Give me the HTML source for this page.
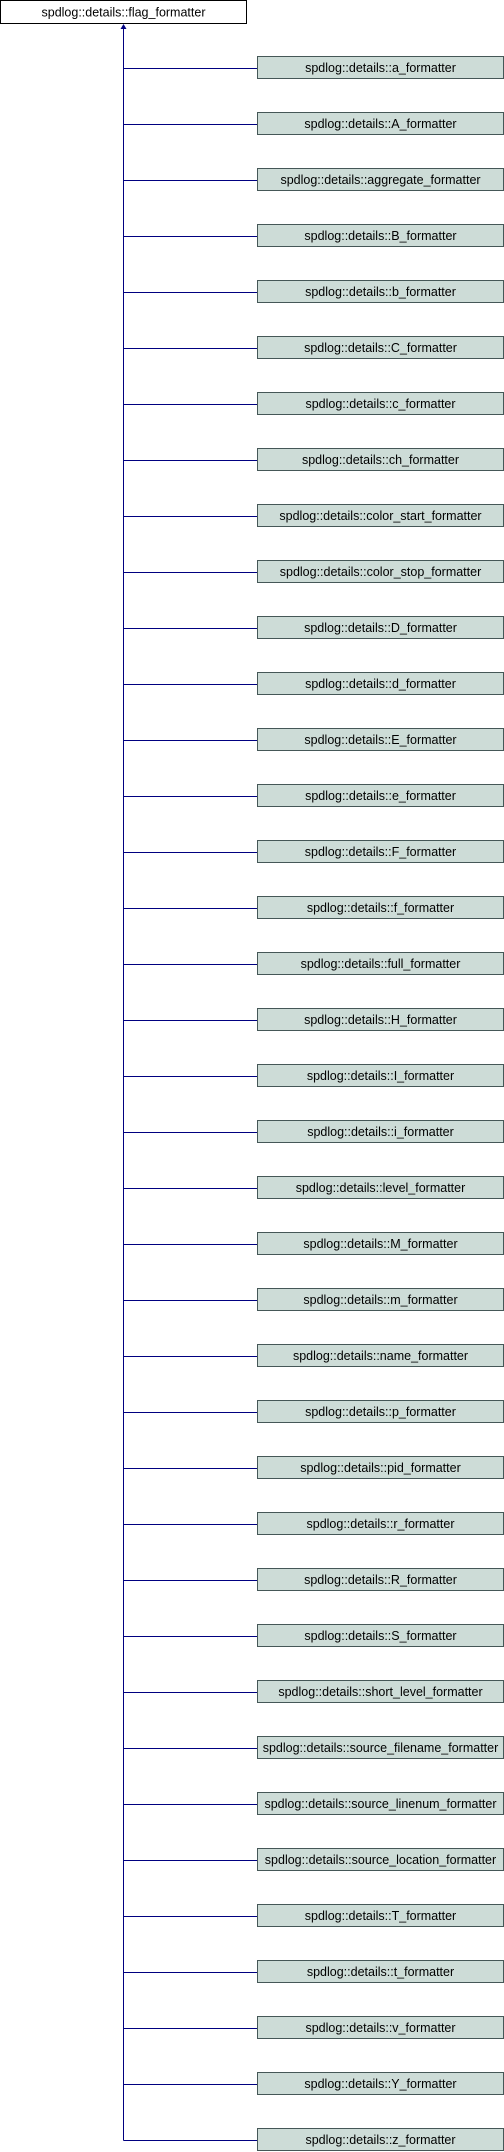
<!DOCTYPE html>
<html><head><meta charset="utf-8"><style>html,body{margin:0;padding:0;background:#fff}svg{display:block}</style></head>
<body>
<svg width="504" height="2152" xmlns="http://www.w3.org/2000/svg" font-family="Liberation Sans, Arial, sans-serif" font-size="12.5">
<rect x="0.5" y="0.5" width="246" height="23" fill="#fff" stroke="#000"/>
<text x="123.5" y="16.5" text-anchor="middle">spdlog::details::flag_formatter</text>
<line x1="123.5" y1="28" x2="123.5" y2="2140.5" stroke="#000080" stroke-width="1"/>
<polygon points="123.5,24 120.5,29 126.5,29" fill="#000080"/>
<g id="kids" stroke="#000080"></g>
<g fill="#cddcd7" stroke="#455757">
</g>
<script>
var names=["a","A","aggregate","B","b","C","c","ch","color_start","color_stop","D","d","E","e","F","f","full","H","I","i","level","M","m","name","p","pid","r","R","S","short_level","source_filename","source_linenum","source_location","T","t","v","Y","z"];
var s=document.querySelector('svg'),ns="http://www.w3.org/2000/svg";
names.forEach(function(n,i){var y=56+56*i;
var l=document.createElementNS(ns,'line');l.setAttribute('x1',123.5);l.setAttribute('x2',257);l.setAttribute('y1',y+12.5);l.setAttribute('y2',y+12.5);l.setAttribute('stroke','#000080');s.appendChild(l);
var r=document.createElementNS(ns,'rect');r.setAttribute('x',257.5);r.setAttribute('y',y+0.5);r.setAttribute('width',246);r.setAttribute('height',22);r.setAttribute('fill','#cddcd7');r.setAttribute('stroke','#455757');s.appendChild(r);
var t=document.createElementNS(ns,'text');t.setAttribute('x',380.5);t.setAttribute('y',y+16);t.setAttribute('text-anchor','middle');t.textContent='spdlog::details::'+n+'_formatter';s.appendChild(t);});
</script>
<text x="-1000" y="-1000">spdlog::details::a_formatter spdlog::details::A_formatter spdlog::details::aggregate_formatter spdlog::details::B_formatter spdlog::details::b_formatter spdlog::details::C_formatter spdlog::details::c_formatter spdlog::details::ch_formatter spdlog::details::color_start_formatter spdlog::details::color_stop_formatter spdlog::details::D_formatter spdlog::details::d_formatter spdlog::details::E_formatter spdlog::details::e_formatter spdlog::details::F_formatter spdlog::details::f_formatter spdlog::details::full_formatter spdlog::details::H_formatter spdlog::details::I_formatter spdlog::details::i_formatter spdlog::details::level_formatter spdlog::details::M_formatter spdlog::details::m_formatter spdlog::details::name_formatter spdlog::details::p_formatter spdlog::details::pid_formatter spdlog::details::r_formatter spdlog::details::R_formatter spdlog::details::S_formatter spdlog::details::short_level_formatter spdlog::details::source_filename_formatter spdlog::details::source_linenum_formatter spdlog::details::source_location_formatter spdlog::details::T_formatter spdlog::details::t_formatter spdlog::details::v_formatter spdlog::details::Y_formatter spdlog::details::z_formatter</text>
</svg>
</body></html>
